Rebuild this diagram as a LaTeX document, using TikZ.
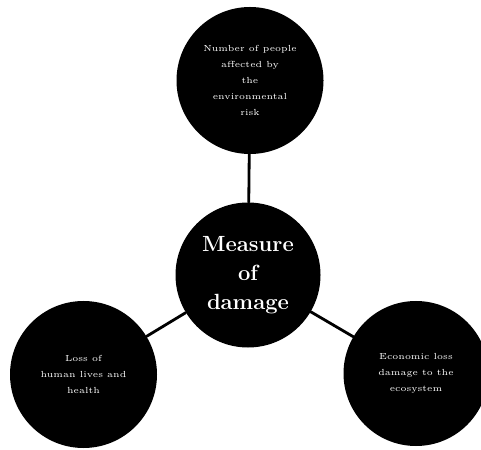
\documentclass[tikz,border=0pt]{standalone}
\usetikzlibrary{calc}

\begin{document}
\begin{tikzpicture}[line cap=round,line join=round,
  bubble/.style={circle,fill=black,text=white,inner sep=0pt,align=center,
    minimum size=2.92cm,font=\fontsize{5}{9}\selectfont},
  hub/.style={bubble,font=\bfseries\fontsize{12.5}{16.5}\selectfont},
  link/.style={line width=1.6pt}]
  \useasboundingbox (0,0) rectangle (9.62,8.98);
  % centre and three outer circles
  \node[hub,minimum size=2.90cm] (damage) at (4.96,3.48) {Measure\\of\\damage};
  \node[bubble,minimum size=2.94cm] (people) at (5.00,7.37)
    {Number of people\\affected by\\the\\environmental\\risk};
  \node[bubble,minimum size=2.94cm] (health) at (1.67,1.49)
    {Loss of\\human lives and\\health};
  \node[bubble,minimum size=2.90cm] (nature) at (8.32,1.51)
    {Economic loss\\damage to the\\ecosystem};
  % spokes
  \draw[link] (damage) -- (people);
  \draw[link] (damage) -- (health);
  \draw[link] (damage) -- (nature);
\end{tikzpicture}
\end{document}
